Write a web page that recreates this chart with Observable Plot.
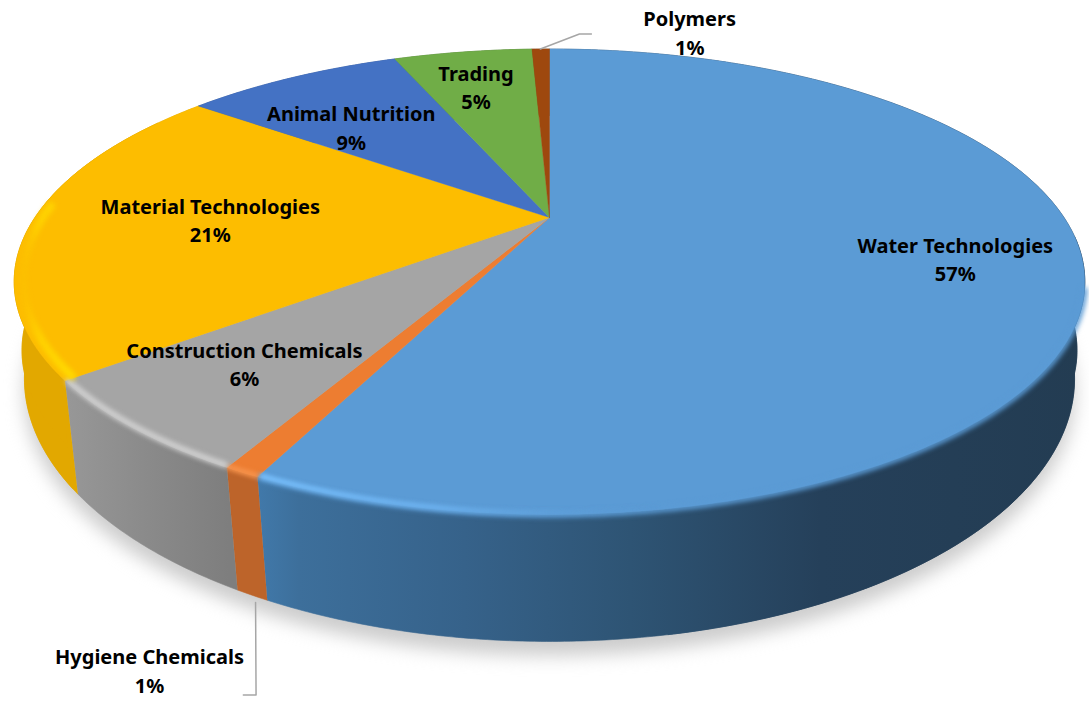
<!DOCTYPE html>
<html>
<head>
<meta charset="utf-8">
<script src="https://cdn.jsdelivr.net/npm/d3@7"></script>
<script src="https://cdn.jsdelivr.net/npm/@observablehq/plot@0.6"></script>
<style>
html,body{margin:0;padding:0;background:#fff;}
svg{display:block;}
</style>
</head>
<body>
<div id="chart"></div>
<script>
// Data, clockwise from twelve o'clock
const categories = ["Water Technologies","Hygiene Chemicals","Construction Chemicals","Material Technologies","Animal Nutrition","Trading","Polymers"];
const shares = [57.0,0.87,6.33,21.14,8.5,5.47,0.69];
const percentLabels = ["57%","1%","6%","21%","9%","5%","1%"];
const topColors = ["#5b9bd5","#ed7d31","#a5a5a5","#fdbd00","#4472c4","#70ad47","#9e480e"];
const sideFills = ["url(#sideWater)","#bd642a","url(#sideGray)","#e2a800","#2f5597","#4e7a31","#6e3209"];

// Label placement in the plane of the disc: radius and turn from the slice's middle
const labelRadius = [0.771,1.4215,0.7625,0.6565,0.638,0.743,1.176];
const labelTurn = [1.4,-6.55,1.1,-0.6,-5.5,-1.0,18.9];

// Leader lines in the same polar terms: [angle, radius]
const leaders = [
  {name:"Polymers", pts:[[358.7,1.0],[3.9,1.1186],[5.45,1.1211]]},
  {name:"Hygiene Chemicals", pts:[[197.7,1.2577],[194.4,1.4217],[195,1.4254]]}
];

// Perspective view of the disc
const cx = 549;
const topFace = {cy:217, R:514.5, H:215, k:0.276};
const shoulderFace = {cy:285, R:507, H:217, k:0.276};
const baseFace = {cy:309.6, R:507, H:245.2, k:0.26};
function project(g, a, r = 1) {
  const t = a * Math.PI / 180, s = Math.sin(t), c = Math.cos(t), w = 1 + g.k * r * c;
  return {x: cx + g.R * r * s / w, y: g.cy - g.H * r * c / w};
}
function arc(g, a0, a1, r = 1) {
  const n = Math.max(2, Math.ceil(Math.abs(a1 - a0) / 0.5));
  return d3.range(n + 1).map(i => project(g, a0 + (a1 - a0) * i / n, r));
}

const total = d3.sum(shares);
const edges = [0, ...d3.cumsum(shares)].map(v => v / total * 360);
const slices = categories.map((name, i) => ({name, a0: edges[i], a1: edges[i + 1]}));
const apex = {x: cx, y: topFace.cy};

function defs() {
  const d = d3.create("svg:defs");
  const grad = (id, stops, x1, x2) => {
    const g = d.append("linearGradient").attr("id", id).attr("gradientUnits", "userSpaceOnUse")
      .attr("x1", x1).attr("x2", x2).attr("y1", 0).attr("y2", 0);
    stops.forEach(([o, c, op]) => {
      const st = g.append("stop").attr("offset", o).attr("stop-color", c);
      if (op !== undefined) st.attr("stop-opacity", op);
    });
  };
  grad("sideWater", [[0,"#4179aa"],[0.05,"#3d6f9b"],[0.25,"#36628a"],[0.45,"#2e5474"],[0.68,"#25405a"],[1,"#233c52"]], 257, 1086);
  grad("sideGray", [[0,"#979797"],[0.5,"#8a8a8a"],[1,"#7e7e7e"]], 68, 228);
  grad("shineWater", [[0,"#7ac2ff",1],[0.45,"#70b6f4",0.85],[1,"#5b9bd5",0]], 257, 660);
  grad("shineGold", [[0,"#ffd900",1],[0.55,"#ffd400",0.85],[1,"#fdbd00",0]], 68, 14);
  return d.node();
}

const marks = [defs];

// Soft shadow under the disc
marks.push(Plot.line(arc(baseFace, 0, 360).map(p => ({x: p.x, y: p.y + 14})), {
  x:"x", y:"y", fill:"#cccccc", stroke:"none", imageFilter:"blur(9px)"
}));

// Side wall of every slice
slices.forEach((s, i) => {
  const pts = [...arc(topFace, s.a0, s.a1), ...arc(baseFace, s.a1, s.a0)];
  marks.push(Plot.line(pts, {x:"x", y:"y", fill:sideFills[i], stroke:sideFills[i], strokeWidth:0.6}));
});

// Rounded shoulder of the wall at the far left and far right
[[0, 95, 170], [3, slices[3].a0 + 1, 300]].forEach(([i, a0, a1]) => {
  const upper = [...arc(topFace, a0, a1), ...arc(shoulderFace, a1, a0)];
  const lower = [...arc(shoulderFace, a0, a1), ...arc(baseFace, a1, a0)];
  [upper, lower].forEach(pts => marks.push(Plot.line(pts, {x:"x", y:"y", fill:sideFills[i], stroke:sideFills[i], strokeWidth:0.6})));
});

// Top face of every slice
slices.forEach((s, i) => {
  const pts = [apex, ...arc(topFace, s.a0, s.a1), apex];
  marks.push(Plot.line(pts, {x:"x", y:"y", fill:topColors[i], stroke:topColors[i], strokeWidth:0.4}));
});

// Bevel along the near rim
const W = slices[0], H = slices[1], C = slices[2], M = slices[3];
marks.push(Plot.line(arc(topFace, 108, W.a1 - 0.3), {x:"x", y:"y", stroke:"#5b9bd5", strokeWidth:6, imageFilter:"blur(2.5px)"}));
marks.push(Plot.line(arc(topFace, 135, W.a1 - 0.3, 0.996), {x:"x", y:"y", stroke:"url(#shineWater)", strokeWidth:5, imageFilter:"blur(2px)"}));
marks.push(Plot.line(arc(topFace, H.a0 + 0.25, H.a1 - 0.25, 0.998), {x:"x", y:"y", stroke:"#f5914a", strokeWidth:6, imageFilter:"blur(2px)"}));
marks.push(Plot.line(arc(topFace, C.a0 + 0.4, C.a1 - 0.3, 0.996), {x:"x", y:"y", stroke:"#d2d2d2", strokeWidth:6, imageFilter:"blur(2.5px)"}));
marks.push(Plot.line(arc(topFace, M.a0 + 0.4, M.a0 + 42, 0.985), {x:"x", y:"y", stroke:"url(#shineGold)", strokeWidth:8, imageFilter:"blur(2.5px)"}));

// Leader lines
leaders.forEach(l => {
  marks.push(Plot.line(l.pts.map(([a, r]) => project(topFace, a, r)), {x:"x", y:"y", stroke:"#a6a6a6", strokeWidth:1.5}));
});

// Labels
const labels = slices.map((s, i) => {
  const p = project(topFace, (s.a0 + s.a1) / 2 + labelTurn[i], labelRadius[i]);
  return {x: p.x, y: p.y, text: `${s.name}\n${percentLabels[i]}`};
});
marks.push(Plot.text(labels, {
  x:"x", y:"y", dy:-2, text:"text", fill:"#000", fontFamily:"'Noto Sans', 'Open Sans', sans-serif",
  fontWeight:700, fontSize:20, lineHeight:1.42, textAnchor:"middle"
}));

const plot = Plot.plot({
  width:1089, height:705, margin:0,
  x:{domain:[0,1089], range:[0,1089], axis:null},
  y:{domain:[0,705], range:[0,705], axis:null},
  style:{background:"#fff", overflow:"hidden"},
  marks
});
document.getElementById("chart").append(plot);
</script>
</body>
</html>
